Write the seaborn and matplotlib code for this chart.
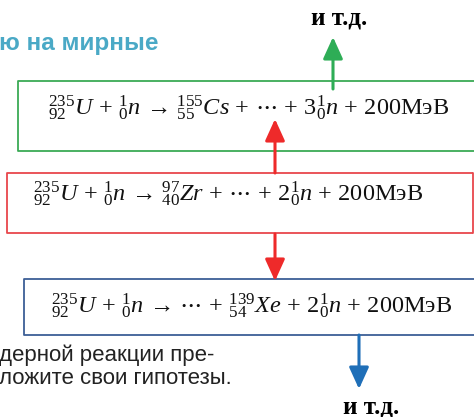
import matplotlib
matplotlib.use("Agg")
import matplotlib.pyplot as plt
import seaborn as sns

# ---- data ----
target = ("U", 235, 92)
projectile = ("n", 1, 0)
fragments = ["Cs", "Zr", "Xe"]
fragment_mass = [155, 97, 139]
fragment_charge = [55, 40, 54]
fragment_first = [True, True, False]   # fragment written before the ellipsis
neutrons_out = [3, 2, 2]
energy_mev = [200, 200, 200]
energy_unit = "МэВ"
box_colors = ["#3aaa55", "#e8474c", "#3d5f96"]
arrow_colors = ["#2ead56", "#ee2a2a", "#ee2a2a", "#1f6fb8"]
etc_label = "и т.д."
heading_fragment = "ю на мирные"
body_lines = ["дерной реакции пре-", "ложите свои гипотезы."]

sns.set_theme(style="white")
plt.rcParams["mathtext.fontset"] = "custom"
plt.rcParams["mathtext.rm"] = "Liberation Serif"
plt.rcParams["mathtext.it"] = "Liberation Serif:italic"
plt.rcParams["font.family"] = ["Liberation Sans", "DejaVu Sans"]

SP = r"\,"


def nuclide(sym, a, z):
    return r"{}^{%d}_{%d}\mathit{%s}" % (a, z, sym)


def plus():
    return SP + " + " + SP


def equation(i):
    lhs = nuclide(*target) + plus() + nuclide(*projectile) + SP + r" \rightarrow " + SP
    frag = nuclide(fragments[i], fragment_mass[i], fragment_charge[i])
    if fragment_first[i]:
        mid = frag + plus() + r"\cdots" + plus()
    else:
        mid = r"\cdots" + plus() + frag + plus()
    tail = r"%d%s" % (neutrons_out[i], nuclide(*projectile)) + plus() + \
        r"%d\mathrm{%s}" % (energy_mev[i], energy_unit)
    return "$" + lhs + mid + tail + "$"


fig = plt.figure(figsize=(4.74, 4.17), dpi=100)
ax = fig.add_axes([0, 0, 1, 1])
ax.set_xlim(0, 474)
ax.set_ylim(417, 0)
ax.axis("off")

# boxes: (x0, y0, x1, y1) ; order: top (green), middle (red), bottom (blue)
boxes = [(18, 81, 480, 151), (7, 173, 473, 233), (24, 279, 480, 335)]
eq_pos = [(249, 108), (228, 194), (252, 306)]
for i, (b, c) in enumerate(zip(boxes, box_colors)):
    x0, y0, x1, y1 = b
    ax.plot([x1, x0, x0, x1], [y0, y0, y1, y1], color=c, lw=1.3, solid_capstyle="butt")
    if x1 < 474:
        ax.plot([x1, x1], [y0, y1], color=c, lw=1.3)
    ax.text(eq_pos[i][0], eq_pos[i][1], equation(i), ha="center", va="center",
            fontsize=17.5, color="#111111")

arrows = [((333, 89), (333, 37)), ((275, 173), (275, 119)),
          ((275, 234), (275, 281)), ((359, 335), (359, 389))]
for (s, e), c in zip(arrows, arrow_colors):
    ax.annotate("", xy=e, xytext=s,
                arrowprops=dict(arrowstyle="-|>,head_length=1.1,head_width=0.5",
                                color=c, lw=2.2, shrinkA=0, shrinkB=0))

ax.text(339, 18, etc_label, ha="center", va="center", fontsize=18,
        fontweight="bold", family="Liberation Serif", color="black")
ax.text(371, 407, etc_label, ha="center", va="center", fontsize=18,
        fontweight="bold", family="Liberation Serif", color="black")

ax.text(-1, 43, heading_fragment, ha="left", va="center", fontsize=17.5,
        fontweight="bold", color="#4aa9c6")
ax.text(-1, 355, body_lines[0], ha="left", va="center", fontsize=16, color="#222222")
ax.text(-1, 378, body_lines[1], ha="left", va="center", fontsize=16, color="#222222")

fig.savefig("out.png", dpi=100)
